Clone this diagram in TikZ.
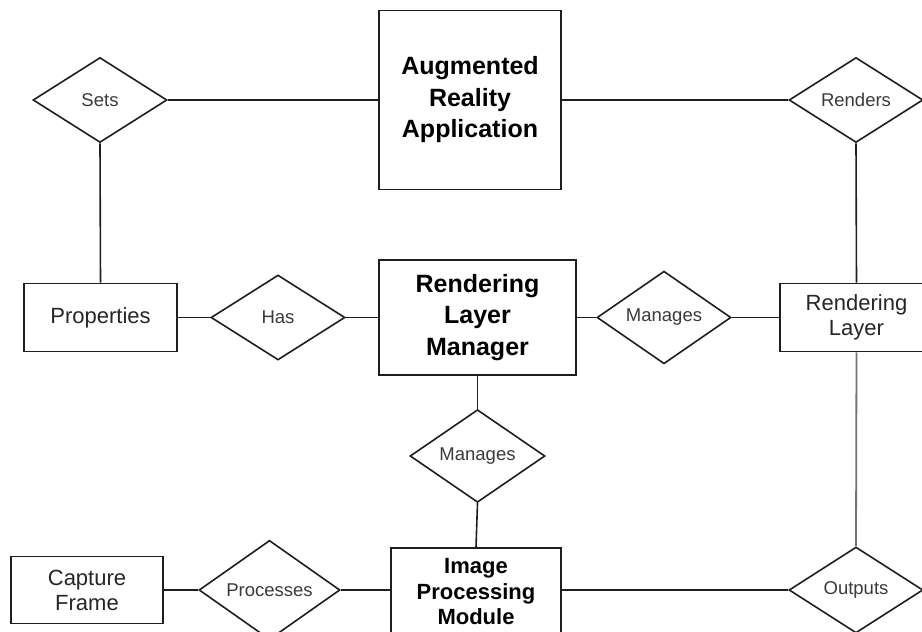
\documentclass[tikz,border=0pt]{standalone}
\usepackage{fontspec}
\setmainfont{Liberation Sans}
\usetikzlibrary{shapes.geometric}

\definecolor{edgecol}{HTML}{1E1E1E}
\definecolor{labelcol}{HTML}{3A3A3A}

\tikzset{
  entity/.style={draw=edgecol, line width=1.6pt, fill=white, inner sep=0pt,
                 align=center, text=black},
  strong/.style={entity, font=\bfseries\fontsize{25}{31.5}\selectfont},
  strongsmall/.style={entity, font=\bfseries\fontsize{22}{25.5}\selectfont},
  plain/.style={entity, font=\fontsize{22}{25}\selectfont, text=black!85},
  relation/.style={diamond, draw=edgecol, line width=1.6pt, fill=white,
                   inner sep=0pt, minimum width=134pt, minimum height=85pt,
                   font=\fontsize{18.5}{20}\selectfont, text=labelcol},
  link/.style={draw=edgecol, line width=1.6pt},
  greylink/.style={draw=black!55, line width=1.8pt}
}

\begin{document}
\begin{tikzpicture}[x=1pt, y=-1pt]
  \useasboundingbox (0,0) rectangle (922,632);
  \clip (0,0) rectangle (922,632);

  % entities
  \node[strong, minimum width=182pt, minimum height=179pt] (ara) at (470,100)
       {Augmented\\Reality\\Application};
  \node[plain, minimum width=153pt, minimum height=68pt] (props) at (100.5,317.5)
       {Properties};
  \node[strong, minimum width=197pt, minimum height=115pt] (rlm) at (477.5,317.5)
       {Rendering\\Layer\\Manager};
  \node[plain, minimum width=153pt, minimum height=68pt] (rl) at (856.5,317.5)
       {Rendering\\Layer};
  \node[plain, minimum width=152pt, minimum height=67pt] (cap) at (87,590)
       {Capture\\Frame};
  \node[strongsmall, minimum width=170pt, minimum height=88pt] (ipm) at (476,592)
       {Image\\Processing\\Module};

  % relationships
  \node[relation] (sets) at (100,100) {Sets};
  \node[relation] (renders) at (856,100) {Renders};
  \node[relation] (has) at (278,317.5) {Has};
  \node[relation] (mgrA) at (664,317.5) {Manages};
  \node[relation, minimum width=135pt, minimum height=83pt] (mgrB) at (477.5,456) {Manages};
  \node[relation, minimum width=141pt, minimum height=86pt] (proc) at (269.5,590) {Processes};
  \node[relation, minimum height=86pt] (outs) at (856,590) {Outputs};

  % connectors
  \draw[link] (sets.east) -- (ara.west |- sets.east);
  \draw[link] (ara.east |- renders.west) -- (renders.west);
  \draw[link] (sets.south) -- (props.north);
  \draw[link] (renders.south) -- (rl.north);
  \draw[link] (props.east) -- (has.west);
  \draw[link] (has.east) -- (rlm.west);
  \draw[link] (rlm.east) -- (mgrA.west);
  \draw[link] (mgrA.east) -- (rl.west);
  \draw[link] (rlm.south) -- (mgrB.north);
  \draw[link] (mgrB.south) -- (ipm.north);
  \draw[link] (cap.east) -- (proc.west);
  \draw[link] (proc.east) -- (proc.east -| ipm.west);
  \draw[link] (ipm.east |- outs.west) -- (outs.west);
  \draw[greylink] (rl.south) -- (outs.north);
\end{tikzpicture}
\end{document}
